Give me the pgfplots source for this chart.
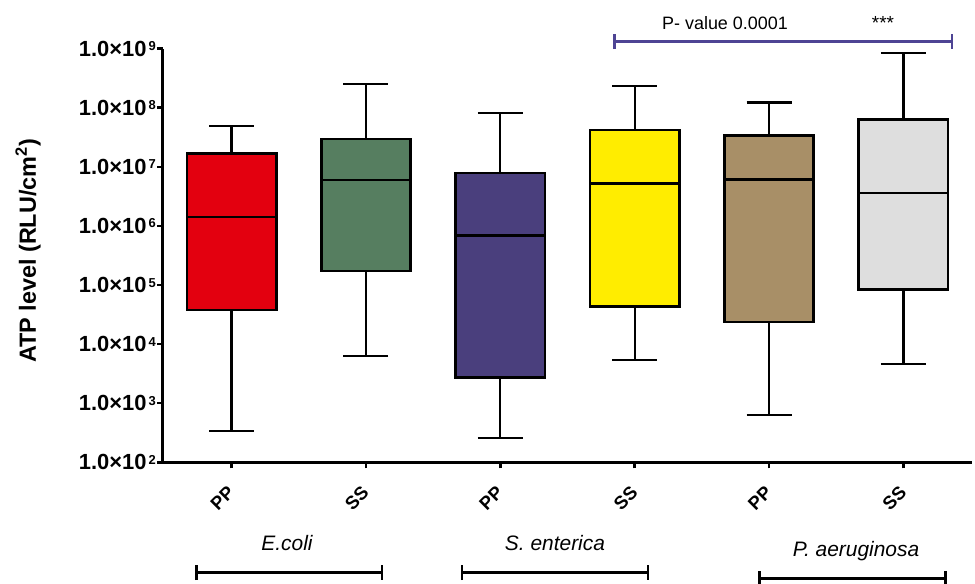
\documentclass[border=0pt]{standalone}
\usepackage{fontspec}
\setmainfont{Liberation Sans}
\usepackage{pgfplots}
\pgfplotsset{compat=1.18}
\usepgfplotslibrary{statistics}
\usetikzlibrary{arrows.meta}

\definecolor{cred}{HTML}{E3000F}
\definecolor{cgreen}{HTML}{567E60}
\definecolor{cpurple}{HTML}{4A3F7D}
\definecolor{cyellow}{HTML}{FFED00}
\definecolor{ctan}{HTML}{A88F67}
\definecolor{cgray}{HTML}{DEDEDE}
\definecolor{cline}{HTML}{4E4494}

\newcommand{\tl}[1]{1.0×10\kern2bp\raisebox{5.5bp}{\fontsize{13}{13}\selectfont\bfseries #1}}

\begin{document}
\begin{tikzpicture}
\begin{axis}[
  name=ax, scale only axis, width=809bp, height=413.7bp,
  xmin=0.49, xmax=6.51, ymode=log, ymin=1e2, ymax=1e9,
  axis lines*=left, axis line style={line width=3bp, black},
  xtick={1,2,3,4,5,6}, xticklabels={PP,SS,PP,SS,PP,SS},
  ytick={1e2,1e3,1e4,1e5,1e6,1e7,1e8,1e9},
  yticklabels={\tl{2},\tl{3},\tl{4},\tl{5},\tl{6},\tl{7},\tl{8},\tl{9}},
  tick align=outside, major tick length=6bp,
  tick style={line width=2.5bp, black},
  yminorticks=false,
  xticklabel style={yshift=-19bp, xshift=2bp, rotate=45, anchor=east, font=\fontsize{18.5}{20}\selectfont\bfseries},
  yticklabel style={font=\fontsize{22}{24}\selectfont\bfseries, inner sep=0bp, xshift=-1bp},
  clip=false,
  boxplot/draw direction=y,
  boxplot/every whisker/.style={line width=2.2bp},
  boxplot/every median/.style={line width=2.6bp},
  boxplot/every box/.style={line width=2.6bp},
]
\addplot[boxplot prepared={draw position=1, lower whisker=343, lower quartile=3.78e4, median=1.42e6, upper quartile=1.69e7, upper whisker=4.96e7, box extend=0.665, whisker extend=0.335}, draw=black, fill=cred] coordinates {};
\addplot[boxplot prepared={draw position=2, lower whisker=6220, lower quartile=1.73e5, median=5.98e6, upper quartile=2.95e7, upper whisker=2.52e8, box extend=0.665, whisker extend=0.335}, draw=black, fill=cgreen] coordinates {};
\addplot[boxplot prepared={draw position=3, lower whisker=261, lower quartile=2700, median=6.83e5, upper quartile=7.85e6, upper whisker=8.23e7, box extend=0.665, whisker extend=0.335}, draw=black, fill=cpurple] coordinates {};
\addplot[boxplot prepared={draw position=4, lower whisker=5320, lower quartile=4.36e4, median=5.26e6, upper quartile=4.2e7, upper whisker=2.36e8, box extend=0.665, whisker extend=0.335}, draw=black, fill=cyellow] coordinates {};
\addplot[boxplot prepared={draw position=5, lower whisker=631, lower quartile=2.37e4, median=6.15e6, upper quartile=3.41e7, upper whisker=1.22e8, box extend=0.665, whisker extend=0.335}, draw=black, fill=ctan] coordinates {};
\addplot[boxplot prepared={draw position=6, lower whisker=4610, lower quartile=8.33e4, median=3.6e6, upper quartile=6.27e7, upper whisker=8.32e8, box extend=0.665, whisker extend=0.335}, draw=black, fill=cgray] coordinates {};
\end{axis}
\begin{scope}[shift={(ax.south west)}]
  % y label
  \node[rotate=90, font=\fontsize{23.5}{26}\selectfont\bfseries] at (-135bp,211.3bp) {ATP level (RLU/cm\textsuperscript{2})};
  % p-value bracket
  \draw[cline, line width=2.5bp, {Bar[width=15bp]}-{Bar[width=15bp]}] (450.3bp,420.6bp) -- (790.3bp,420.6bp);
  \node[anchor=base, font=\fontsize{18}{22}\selectfont] at (562bp,432.8bp) {P- value 0.0001};
  \node[anchor=base, font=\fontsize{19}{22}\selectfont] at (720bp,432.8bp) {***};
  % group labels
  \node[anchor=base, font=\fontsize{21}{24}\selectfont\itshape] at (124bp,-87.7bp) {E.coli};
  \node[anchor=base, font=\fontsize{21}{24}\selectfont\itshape] at (392bp,-87.7bp) {S. enterica};
  \node[anchor=base, font=\fontsize{21}{24}\selectfont\itshape] at (693bp,-93.7bp) {P. aeruginosa};
  \draw[black, line width=2.5bp, {Bar[width=15bp]}-{Bar[width=15bp]}] (32bp,-110.4bp) -- (220.3bp,-110.4bp);
  \draw[black, line width=2.5bp, {Bar[width=15bp]}-{Bar[width=15bp]}] (297.7bp,-110.4bp) -- (486bp,-110.4bp);
  \draw[black, line width=2.5bp, {Bar[width=15bp]}-{Bar[width=15bp]}] (595.3bp,-116bp) -- (783.7bp,-116bp);
  \pgfresetboundingbox
  \path[use as bounding box] (-163bp,-121.7bp) rectangle (812bp,462.3bp);
\end{scope}
\end{tikzpicture}
\end{document}
